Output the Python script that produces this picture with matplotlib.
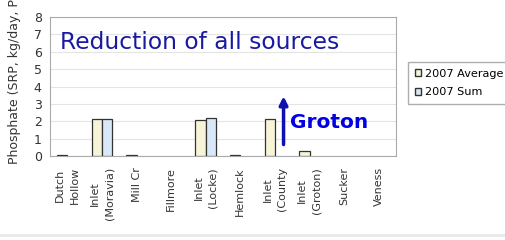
import numpy as np
import matplotlib
matplotlib.use("Agg")
import matplotlib.pyplot as plt
from matplotlib.patches import Patch

# data
sites = ["Dutch\nHollow", "Inlet\n(Moravia)", "Mill Cr", "Fillmore", "Inlet\n(Locke)",
         "Hemlock", "Inlet\n(County", "Inlet\n(Groton)", "Sucker", "Veness"]
avg2007 = [0.08, 2.15, 0.08, 0.0, 2.1, 0.07, 2.15, 0.3, 0.0, 0.0]
sum2007 = [0.0, 2.15, 0.0, 0.0, 2.2, 0.0, 0.0, 0.0, 0.0, 0.0]
yticks = [0, 1, 2, 3, 4, 5, 6, 7, 8]

fig = plt.figure(figsize=(5.06, 2.4), dpi=100)
ax = fig.add_axes([50/506, 1-156/240, 346/506, 139/240])

x = np.arange(len(sites))
w = 0.3
# no outline on empty bars
lw_a = [0.9 if v > 0 else 0 for v in avg2007]
lw_s = [0.9 if v > 0 else 0 for v in sum2007]
ax.bar(x - w/2, avg2007, w, color="#f8f4d8", edgecolor="#333333", linewidth=lw_a, zorder=3)
ax.bar(x + w/2, sum2007, w, color="#d8e8f8", edgecolor="#333333", linewidth=lw_s, zorder=3)

ax.set_xlim(-0.5, len(sites) - 0.5)
ax.set_ylim(0, 8)
ax.set_yticks(yticks)
ax.set_yticklabels([str(t) for t in yticks], fontsize=9, color="#333333")
ax.set_xticks(x)
ax.set_xticklabels(sites, rotation=90, fontsize=8, color="#333333", linespacing=1.55)
ax.tick_params(axis="x", length=0, pad=8)
ax.tick_params(axis="y", length=0, pad=6)
ax.grid(axis="y", color="#e4e4e4", linewidth=0.8, zorder=0)
for s in ax.spines.values():
    s.set_color("#aaaaaa")

ax.text(0.03, 0.77, "Reduction of all sources", transform=ax.transAxes,
        fontsize=16.8, color="#1a1aa0")
ax.annotate("", xy=(6.25, 3.6), xytext=(6.25, 0.5),
            arrowprops=dict(arrowstyle="-|>", color="#1010b0", lw=2.5, mutation_scale=12))
ax.text(6.45, 1.9, "Groton", fontsize=14.5, fontweight="bold", color="#0000e0", va="center")

# label is cut at the top edge in the original
fig.text(15/506, 1-164/240, "Phosphate (SRP, kg/day, P", rotation=90, fontsize=9,
         color="#333333", ha="center", va="bottom")

handles = [Patch(facecolor="#f8f4d8", edgecolor="#333333"),
           Patch(facecolor="#d8e8f8", edgecolor="#333333")]
fig.legend(handles, ["2007 Average", "2007 Sum"], loc="upper left",
           bbox_to_anchor=(408/506, 1-62/240), fontsize=8.1, frameon=True,
           fancybox=False, edgecolor="#999999", handlelength=0.6, handleheight=0.6,
           handletextpad=0.35, borderpad=0.6, labelspacing=0.75, borderaxespad=0)

fig.add_artist(plt.Line2D([0, 1], [1-235/240, 1-235/240], color="#e8e8e8", lw=2))

fig.savefig("out.png", dpi=100)
